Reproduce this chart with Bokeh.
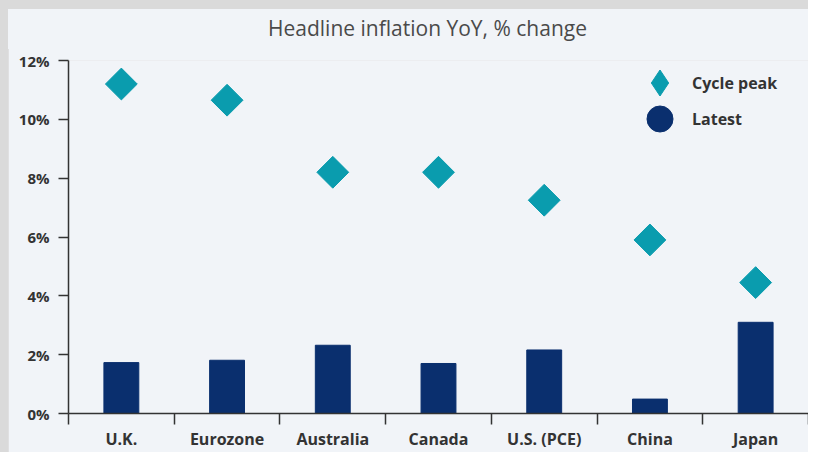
import math
from bokeh.plotting import figure
from bokeh.layouts import column
from bokeh.models import (Range1d, FixedTicker, PrintfTickFormatter, Legend, LegendItem, Div)
from bokeh.embed import file_html
from bokeh.resources import INLINE

title_text = "Headline inflation YoY, % change"
categories = ["U.K.", "Eurozone", "Australia", "Canada", "U.S. (PCE)", "China", "Japan"]
cycle_peak = [11.2, 10.65, 8.2, 8.2, 7.25, 5.9, 4.45]
latest = [1.73, 1.81, 2.32, 1.7, 2.16, 0.49, 3.1]
y_ticks = [0, 2, 4, 6, 8, 10, 12]

BG = "#f1f4f8"
FRAME = "#dadada"
TEAL = "#0a9cae"
NAVY = "#0a2f6e"
TXT = "#333333"
FONT = "Open Sans"

xs = [i + 0.5 for i in range(len(categories))]
bounds = list(range(len(categories) + 1))
nan = float("nan")

title_div = Div(
    text=('<div style="padding-left:260px; padding-top:5px; font-family:\'Open Sans\'; '
          'font-size:21px; line-height:28px; color:#4a4a4a; white-space:nowrap;">'
          + title_text + '</div>'),
    width=800, height=40, margin=(9, 0, 0, 8),
    styles={"background-color": BG})

p = figure(width=800, height=404, x_range=Range1d(0, len(categories)), y_range=Range1d(0, 12),
           output_backend="svg", toolbar_location=None,
           background_fill_color=BG, border_fill_color=BG,
           min_border_left=60, min_border_right=0, min_border_top=12, min_border_bottom=0,
           margin=(-1, 0, 0, 8))
p.outline_line_color = None
p.xgrid.visible = False
p.ygrid.visible = False

bars = p.vbar(x=xs, top=latest, width=0.33, color=NAVY)
peaks = p.scatter(x=xs, y=cycle_peak, marker="square", angle=math.pi / 4, size=22.5, color=TEAL)
key_peak = p.scatter(x=[nan], y=[nan], marker="diamond", size=26, color=TEAL)
key_latest = p.scatter(x=[nan], y=[nan], marker="circle", size=26, color=NAVY)

xa = p.xaxis[0]
xa.ticker = FixedTicker(ticks=xs, minor_ticks=bounds)
xa.major_label_overrides = {x: c for x, c in zip(xs, categories)}
xa.major_tick_line_color = None
xa.major_tick_out = 12
xa.minor_tick_in = 0
xa.minor_tick_out = 11
xa.minor_tick_line_color = TXT
xa.minor_tick_line_width = 1.5
xa.axis_line_color = TXT
xa.axis_line_width = 1.5
xa.axis_label_standoff = 0
xa.major_label_text_font = FONT
xa.major_label_text_font_size = "16px"
xa.major_label_text_font_style = "bold"
xa.major_label_text_color = TXT
xa.major_label_standoff = 2

ya = p.yaxis[0]
ya.ticker = FixedTicker(ticks=y_ticks)
ya.formatter = PrintfTickFormatter(format="%d%%")
ya.minor_tick_line_color = None
ya.major_tick_in = 0
ya.major_tick_out = 10
ya.major_tick_line_color = TXT
ya.major_tick_line_width = 1.5
ya.axis_line_color = TXT
ya.axis_line_width = 1.5
ya.major_label_text_font = FONT
ya.major_label_text_font_size = "15px"
ya.major_label_text_font_style = "bold"
ya.major_label_text_color = TXT
ya.major_label_standoff = 9

legend_style = dict(orientation="vertical", background_fill_alpha=0, border_line_color=None,
                    glyph_width=65, glyph_height=65, label_height=20, spacing=0,
                    padding=0, margin=0, label_standoff=0,
                    label_text_font=FONT, label_text_font_size="16px",
                    label_text_font_style="bold", label_text_color=TXT)
legend_peak = Legend(items=[LegendItem(label="Cycle peak", renderers=[key_peak])],
                     location=(559, 298), **legend_style)
legend_latest = Legend(items=[LegendItem(label="Latest", renderers=[key_latest])],
                       location=(559, 262), **legend_style)
p.add_layout(legend_peak, "center")
p.add_layout(legend_latest, "center")

page = column(title_div, p, spacing=0, styles={"background-color": FRAME})

open("out.html", "w").write(file_html(page, INLINE))
